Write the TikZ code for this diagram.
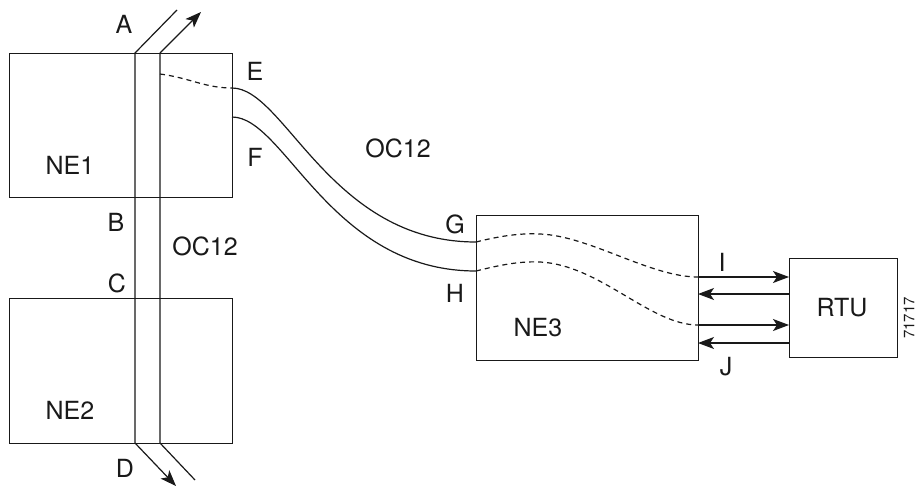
\documentclass[tikz,border=0pt]{standalone}
\usepackage{fontspec}
\setmainfont{TeX Gyre Heros}
\usetikzlibrary{arrows.meta}
\begin{document}
\begin{tikzpicture}[x=1pt,y=-1pt,
  ln/.style={line width=1.2pt,black!90},
  dsh/.style={ln,dash pattern=on 5pt off 4pt},
  box/.style={draw,line width=1.2pt,black!90,inner sep=0pt,anchor=north west},
  lab/.style={font=\fontsize{25}{25}\selectfont,text=black!90,inner sep=0pt},
  arr/.style={ln,-{Stealth[length=16pt,width=12pt,inset=4pt]}}]
\useasboundingbox (0,0) rectangle (918,487);
% boxes
\node[box,minimum width=223pt,minimum height=144pt] (ne1) at (9,53) {};
\node[box,minimum width=223pt,minimum height=145pt] (ne2) at (9,298) {};
\node[box,minimum width=222pt,minimum height=145pt] (ne3) at (476,215) {};
\node[box,minimum width=108pt,minimum height=99pt] (rtu) at (789,258) {};
% coordinates
\coordinate (l1) at (135,53);
\coordinate (r1) at (160,53);
\coordinate (l2) at (135,443);
\coordinate (r2) at (160,443);
\coordinate (lt) at (177,10);
\coordinate (rt) at (201,12);
\coordinate (lb) at (176,486);
\coordinate (rb) at (195,480);
\coordinate (e) at (232,88);
\coordinate (f) at (232,117);
\coordinate (d1) at (160,74);
\coordinate (g) at (476,242);
\coordinate (h) at (476,271);
\coordinate (gp) at (540,234);
\coordinate (hp) at (540,262);
\coordinate (i1) at (698,277);
\coordinate (i2) at (698,294);
\coordinate (j1) at (698,325);
\coordinate (j2) at (698,343);
\coordinate (ri1) at (789,277);
\coordinate (ri2) at (789,294);
\coordinate (rj1) at (789,325);
\coordinate (rj2) at (789,343);
% vertical fibre
\draw[ln] (lt) -- (l1) -- (l2);
\draw[ln] (r1) -- (r2) -- (rb);
\draw[arr] (r1) -- (rt);
\draw[arr] (l2) -- (lb);
% NE1 dashed
\draw[dsh] (d1) .. controls (190,78) and (205,88) .. (e);
% E / F curves
\draw[ln] (e) .. controls (285,88) and (330,242) .. (g);
\draw[ln] (f) .. controls (285,117) and (330,271) .. (h);
% NE3 dashed
\draw[dsh] (g) .. controls (500,236) and (520,233) .. (gp) .. controls (590,236) and (650,277) .. (i1);
\draw[dsh] (h) .. controls (500,265) and (520,261) .. (hp) .. controls (600,265) and (650,325) .. (j1);
% arrows to RTU
\draw[arr] (i1) -- (ri1);
\draw[arr] (ri2) -- (i2);
\draw[arr] (j1) -- (rj1);
\draw[arr] (rj2) -- (j2);
% labels
\node[lab] (tA) at (124,24) {A};
\node[lab] (tB) at (116,222) {B};
\node[lab] (tC) at (117,283) {C};
\node[lab] (tD) at (125,468) {D};
\node[lab] (tE) at (255,71) {E};
\node[lab] (tF) at (255,157) {F};
\node[lab] (tG) at (455,224) {G};
\node[lab] (tH) at (455,293) {H};
\node[lab] (tI) at (722,262) {I};
\node[lab] (tJ) at (726,367) {J};
\node[lab] (tO1) at (398,148) {OC12};
\node[lab] (tO2) at (205,246) {OC12};
\node[lab] (tN1) at (70,165) {NE1};
\node[lab] (tN2) at (70,410) {NE2};
\node[lab] (tN3) at (538,328) {NE3};
\node[lab] (tR) at (842,308) {RTU};
\node[lab,font=\fontsize{15}{15}\selectfont,rotate=90] (tnum) at (909,318) {71717};
\end{tikzpicture}
\end{document}
